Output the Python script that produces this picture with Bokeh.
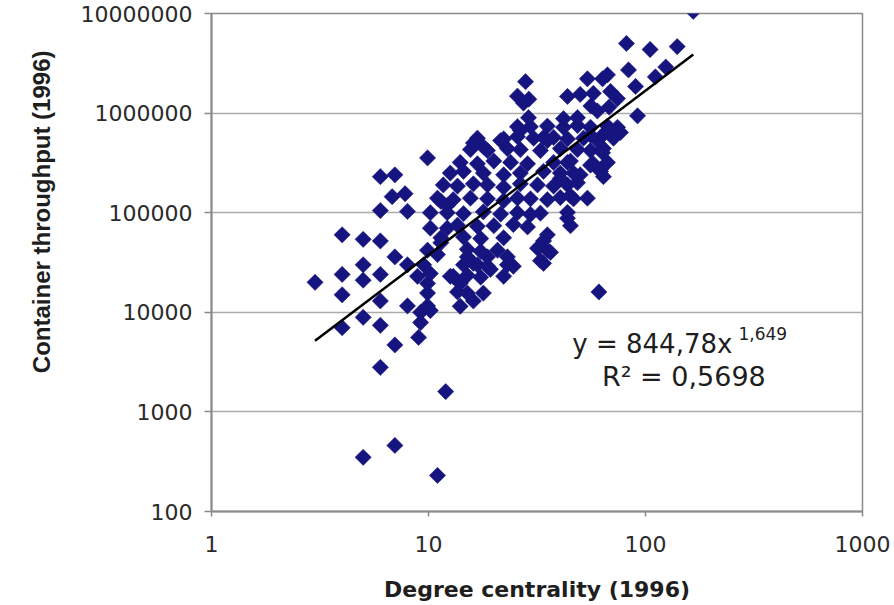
import math
from bokeh.plotting import figure
from bokeh.models import Range1d, FixedTicker, PrintfTickFormatter, Label, Title, ColumnDataSource
from bokeh.embed import file_html
from bokeh.resources import INLINE

# ---------------- data ----------------
degree = [
    # low outliers
    5, 7, 11, 12, 6, 7, 9, 61,
    # left part of the cloud
    3, 4, 4, 4, 4, 5, 5, 5, 5, 6, 6, 6, 6, 6, 7, 6.8, 7.8, 6, 8, 7, 8, 8, 9.2, 9.2,
    10.2, 8.9, 10.2, 9.9, 9.9, 9.9, 10.2, 10.2, 11.4, 12.2, 12.2, 11.4, 11, 13, 14,
    15.1, 16.1, 17.9, 15.1, 16.8, 18.7, 19.3, 23.1, 24.6, 32.8, 33.9, 35.3,
    # dense core, row by row
    25.7, 29.5, 35.3, 41.9, 48.6, 55.8, 66.8, 74.3,
    16.8, 22.2, 25.7, 30.5, 37.7, 43.7, 51.8, 62, 71.2,
    15.6, 18.7, 23.1, 26.5, 32.8, 40.5, 48.6, 55.8, 64,
    14, 16.8, 20, 23.9, 28.6, 37.7, 45.1, 57.5, 66.8,
    12.6, 14.5, 17.9, 22.2, 26.5, 33.9, 40.5, 50, 62,
    11.7, 13.6, 16.1, 18.7, 22.2, 26.5, 31.8, 37.7, 43.7, 48.6,
    11, 13, 15.6, 18.7, 22.2, 25.7, 29.5, 35.3, 40.5, 46.6, 54,
    12.2, 14.5, 17.9, 21.5, 25.7, 29.5, 32.8, 43.7,
    13.6, 16.8, 20, 24.6, 28.6, 45.1,
    11.4, 14.5, 17.4, 22.2,
    9.9, 15.1, 17.4, 20.8, 31.8, 36.5,
    9.5, 14.5, 16.1, 18.7, 23.1, 33.9,
    12.6, 15.1, 17.4, 22.2,
    13.6, 9.9, 14,
    # upper part
    28, 25.7, 27.4, 28.9, 43.7, 50, 54, 63.4, 69, 56, 48.6, 41.9, 68, 74.3,
    81.7, 105, 140, 83.5, 124, 111, 66.8, 90, 57.5, 60, 91.9,
    66.8, 76.7, 55.8, 60, 35.3, 63.4, 55.8, 62, 64, 43.7, 46.6, 40.5, 45,
    35.3, 43.7, 29, 33.9, 16.1, 17.9, 21.5, 26.5,
    166,
]
throughput = [
    350, 460, 230, 1600, 2800, 4700, 5600, 16000,
    20000, 60000, 24000, 15000, 7000, 54000, 30000, 21000, 8900, 52000, 24000, 13000, 7400,
    230000, 240000, 145000, 155000, 105000, 103000, 36000, 30000, 11600, 10000, 7900,
    10400, 23000, 24500, 19500, 15600, 355000, 100000, 70000, 130000, 118000, 70000, 50000,
    38000, 23000, 19500, 15600, 13000, 15600, 36000, 30000, 36000, 27000, 36000, 29000,
    33000, 52000, 42000,
    730000, 730000, 740000, 720000, 750000, 720000, 740000, 720000,
    560000, 550000, 580000, 560000, 570000, 550000, 560000, 570000, 560000,
    430000, 420000, 440000, 430000, 420000, 440000, 430000, 420000, 440000,
    320000, 310000, 330000, 320000, 310000, 320000, 330000, 310000, 320000,
    250000, 260000, 250000, 240000, 250000, 260000, 250000, 240000, 260000,
    190000, 185000, 195000, 190000, 180000, 195000, 190000, 185000, 190000, 200000,
    140000, 135000, 140000, 138000, 132000, 140000, 138000, 135000, 142000, 138000, 140000,
    100000, 98000, 102000, 97000, 100000, 96000, 99000, 101000,
    75000, 73000, 74000, 76000, 72000, 74000,
    56000, 57000, 55000, 56000,
    42000, 43000, 41000, 42000, 44000, 40000,
    30000, 30000, 31000, 29000, 30000, 31000,
    23000, 23500, 22500, 23000,
    16000, 11600, 11500,
    2070000, 1480000, 1260000, 900000, 1470000, 1540000, 2210000, 2210000, 1650000,
    1180000, 900000, 880000, 1150000, 1400000,
    5000000, 4350000, 4650000, 2710000, 2900000, 2310000, 2420000, 1850000, 1580000,
    1050000, 940000,
    670000, 640000, 600000, 530000, 530000, 400000, 300000, 270000, 230000, 320000,
    250000, 220000, 148000,
    60000, 88000, 1380000, 570000, 500000, 460000, 530000, 670000,
    10500000,
]
x_ticks = [1, 10, 100, 1000]
y_ticks = [100, 1000, 10000, 100000, 1000000, 10000000]
fit_coef = 844.78
fit_exp = 1.649
fit_r2 = 0.5698
x_title = "Degree centrality (1996)"
y_title = "Container throughput (1996)"

NAVY = "#16147f"
GRAY = "#8a8a8a"
TXT = "#1e1e1e"

p = figure(width=894, height=605, x_axis_type="log", y_axis_type="log",
           x_range=Range1d(1, 1000), y_range=Range1d(100, 1e7),
           output_backend="svg", toolbar_location=None,
           min_border_left=211, min_border_right=32, min_border_top=13,
           min_border_bottom=94,
           background_fill_color="white", border_fill_color="white")
p.title.visible = False

# axes
p.xaxis.ticker = FixedTicker(ticks=x_ticks)
p.yaxis.ticker = FixedTicker(ticks=y_ticks)
p.ygrid.ticker = FixedTicker(ticks=y_ticks)
p.xaxis.formatter = PrintfTickFormatter(format="%d")
p.yaxis.formatter = PrintfTickFormatter(format="%d")
for ax in (p.xaxis, p.yaxis):
    ax.axis_line_color = GRAY
    ax.axis_line_width = 2
    ax.major_tick_line_color = GRAY
    ax.major_tick_line_width = 1.5
    ax.major_tick_in = 0
    ax.minor_tick_line_color = None
    ax.major_label_text_font = "DejaVu Sans"
    ax.major_label_text_font_size = "22px"
    ax.major_label_text_color = "#2a2a2a"
p.yaxis.major_tick_out = 7
p.yaxis.major_label_standoff = 12
p.xaxis.major_tick_out = 5
p.xaxis.major_label_standoff = 19

p.xaxis.axis_label = x_title
p.xaxis.axis_label_text_font = "DejaVu Sans"
p.xaxis.axis_label_text_font_size = "22px"
p.xaxis.axis_label_text_font_style = "bold"
p.xaxis.axis_label_text_color = TXT
p.xaxis.axis_label_standoff = 22

# vertical axis title as a side title, shifted toward the top like the original
p.add_layout(Title(text=y_title, align="right", offset=37, standoff=46,
                   text_font="Liberation Sans", text_font_size="24px",
                   text_font_style="bold", text_color=TXT), "left")

p.xgrid.grid_line_color = None
p.ygrid.grid_line_color = "#ababab"
p.ygrid.grid_line_width = 1.5
p.outline_line_color = GRAY
p.outline_line_width = 1.5

# points
src = ColumnDataSource(data=dict(x=degree, y=throughput))
p.scatter("x", "y", source=src, marker="square", angle=math.pi / 4, size=11.5,
          fill_color=NAVY, line_color=NAVY, line_width=0.5)

# power-law trendline
tx = [min(degree), max(degree)]
ty = [fit_coef * v ** fit_exp for v in tx]
p.line(tx, ty, line_color="black", line_width=2.5)

# equation and R^2
eq_text = "y = " + f"{fit_coef:.2f}".replace(".", ",") + "x"
exp_text = f"{fit_exp:.3f}".replace(".", ",")
r2_text = "R\u00b2 = " + f"{fit_r2:.4f}".replace(".", ",")
p.add_layout(Label(x=46, y=4860, text=eq_text, text_font="DejaVu Sans",
                   text_font_size="26px", text_color=TXT, text_baseline="alphabetic"))
p.add_layout(Label(x=268, y=6130, text=exp_text, text_font="DejaVu Sans",
                   text_font_size="17px", text_color=TXT, text_baseline="alphabetic"))
p.add_layout(Label(x=63, y=2270, text=r2_text, text_font="DejaVu Sans",
                   text_font_size="27px", text_color=TXT, text_baseline="alphabetic"))

open("out.html", "w").write(file_html(p, INLINE))
